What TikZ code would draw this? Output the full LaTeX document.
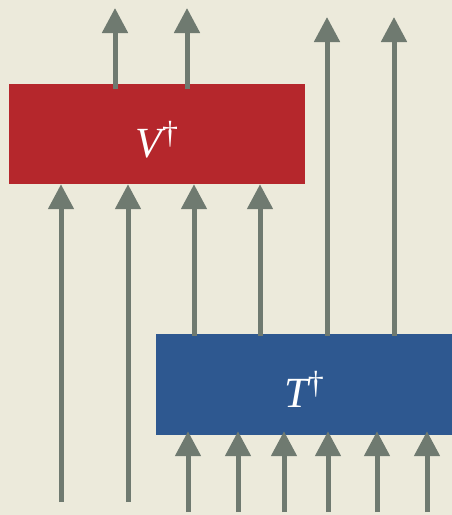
\documentclass[tikz,border=0pt]{standalone}
\usepackage{fontspec}
\setmainfont{Liberation Serif}
\usetikzlibrary{arrows.meta}
\definecolor{bgpaper}{HTML}{ECEADB}
\definecolor{boxred}{HTML}{B5272C}
\definecolor{boxblue}{HTML}{2E5890}
\definecolor{wire}{HTML}{6F7A70}
\tikzset{
  gatebox/.style={draw=none, minimum width=296pt, minimum height=100pt, inner sep=0pt, text=white, font=\fontsize{43}{43}\selectfont},
  wirearrow/.style={draw=wire, line width=5pt, -{Triangle[width=25pt,length=25pt]}},
  wireline/.style={draw=wire, line width=5pt}
}
\newcommand{\gatelabel}[1]{\raisebox{-23pt}[0pt][0pt]{{\itshape #1}\raisebox{14pt}{\fontsize{32}{32}\selectfont †}}}
\begin{document}
\begin{tikzpicture}[x=1pt,y=-1pt]
\fill[bgpaper] (0,0) rectangle (452,515);
\useasboundingbox (0,0) rectangle (452,515);
% boxes
\node[gatebox, fill=boxred] (V) at (157,134) {\gatelabel{V}};
\node[gatebox, fill=boxblue, minimum height=101pt] (T) at (304,384.5) {\gatelabel{T}};
% free ends
\coordinate (o1) at (115,8);
\coordinate (o2) at (187,8);
\coordinate (o3) at (327,17);
\coordinate (o4) at (394,17);
\coordinate (l1) at (61,502);
\coordinate (l2) at (128,502);
\foreach \i/\x in {1/188,2/238,3/284,4/328,5/377,6/427}{
  \coordinate (b\i) at (\x,512);
}
% outputs of V
\draw[wirearrow] ([yshift=-5pt]V.north -| o1) -- (o1);
\draw[wirearrow] ([yshift=-5pt]V.north -| o2) -- (o2);
% outputs of T going past V
\draw[wirearrow] ([yshift=-2pt]T.north -| o3) -- (o3);
\draw[wirearrow] ([yshift=-2pt]T.north -| o4) -- (o4);
% T to V
\coordinate (m1) at (194,0);
\coordinate (m2) at (260,0);
\draw[wirearrow] ([yshift=-2pt]T.north -| m1) -- (V.south -| m1);
\draw[wirearrow] ([yshift=-2pt]T.north -| m2) -- (V.south -| m2);
% external inputs to V
\draw[wirearrow] (l1) -- (V.south -| l1);
\draw[wirearrow] (l2) -- (V.south -| l2);
% inputs to T
\foreach \i in {1,...,6}{
  \draw[wirearrow] (b\i) -- ([yshift=4pt]T.south -| b\i);
}
\end{tikzpicture}
\end{document}
